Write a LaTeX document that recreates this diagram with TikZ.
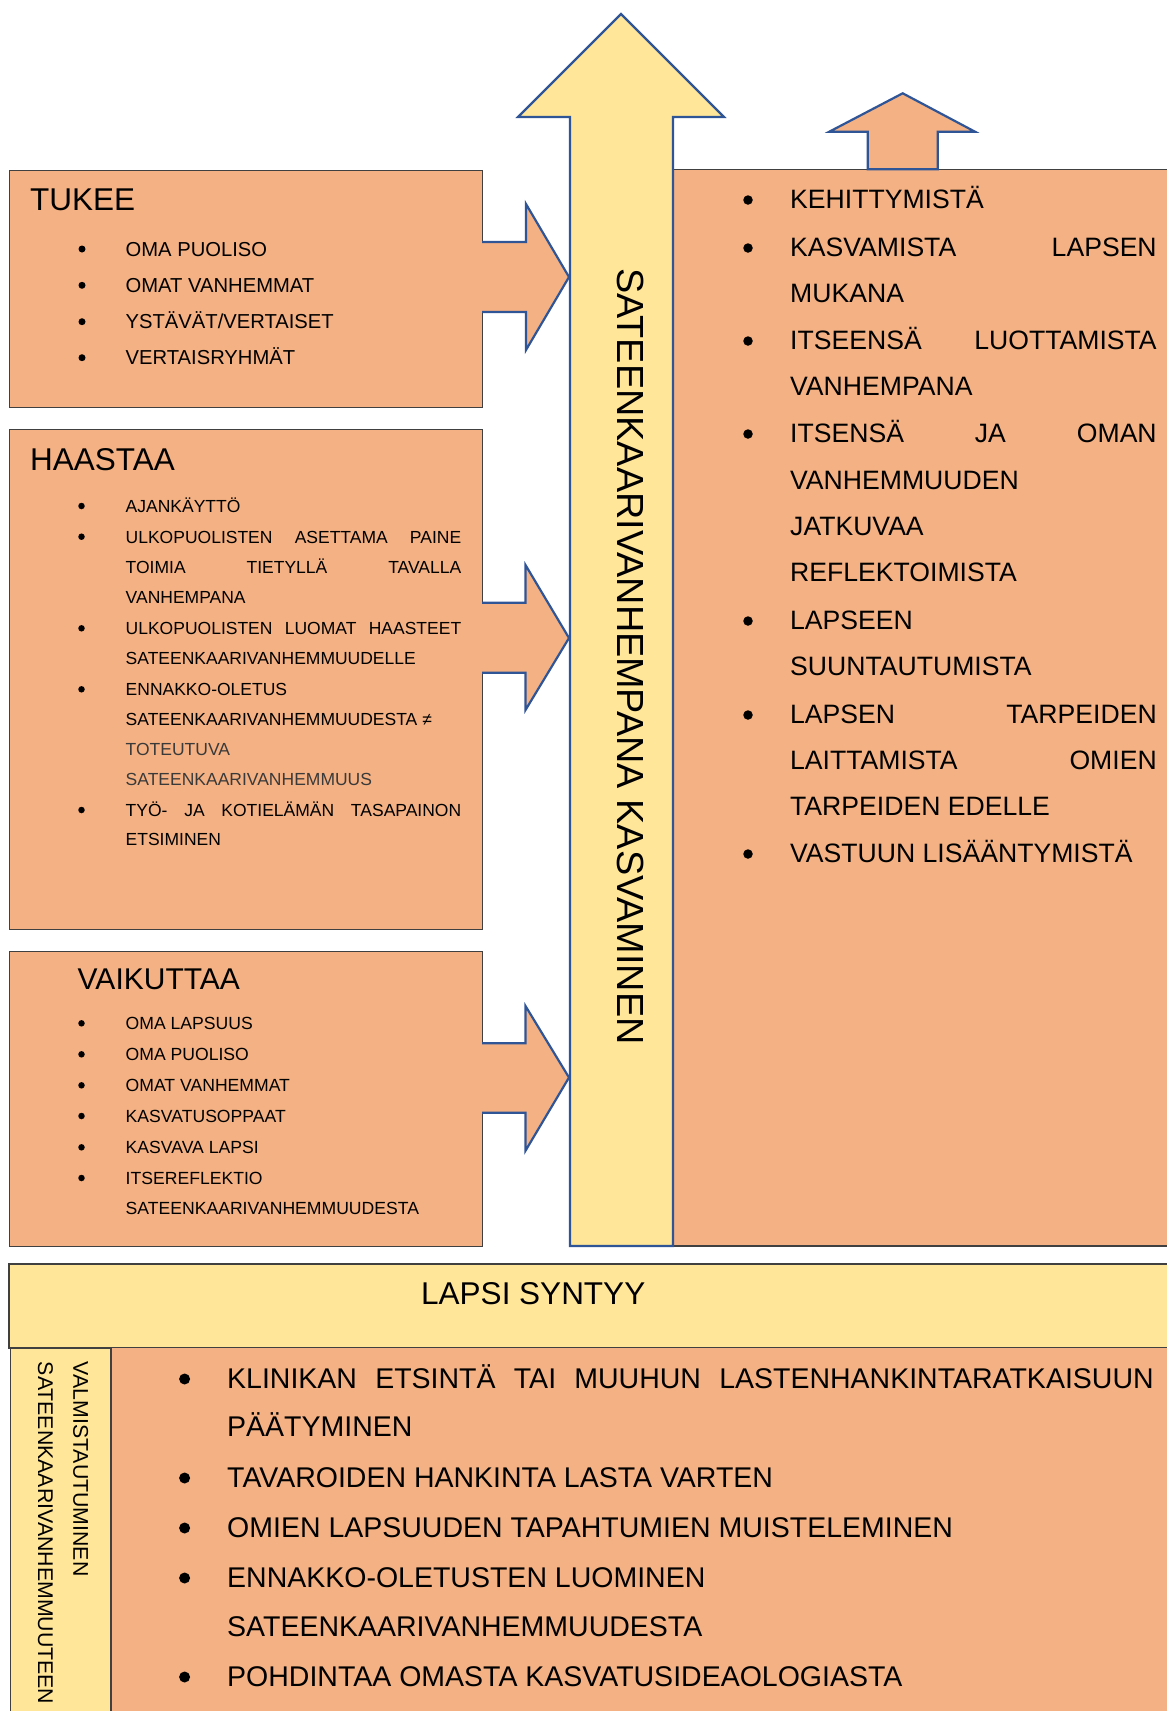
\documentclass[tikz,border=0pt]{standalone}
\usepackage{fontspec}
\setmainfont{Liberation Sans}
\definecolor{org}{HTML}{F4B183}
\definecolor{yel}{HTML}{FFE699}
\definecolor{arblue}{HTML}{2F5597}
\definecolor{edgec}{HTML}{404040}
\definecolor{greytx}{HTML}{3A3A3A}
\newcommand\justline[2]{\hbox to #1{#2}}
\begin{document}
\begin{tikzpicture}[x=1pt,y=-1pt,
  sbox/.style={fill=org, draw=edgec, line width=1.3pt, anchor=north west, inner sep=0},
  barrow/.style={fill=#1, draw=arblue, line width=2.2pt, line join=miter},
  ttl/.style={anchor=base west, inner sep=0, font=\fontsize{31.5}{36}\selectfont},
  rtx/.style={anchor=base west, inner sep=0, font=\fontsize{26.6}{30}\selectfont},
  stx/.style={anchor=base west, inner sep=0, font=\fontsize{20.2}{23}\selectfont},
  htx/.style={anchor=base west, inner sep=0, font=\fontsize{17.5}{20}\selectfont},
  btx/.style={anchor=base west, inner sep=0, font=\fontsize{28.5}{32}\selectfont},
  vtx/.style={rotate=-90, anchor=base west, inner sep=0, font=\fontsize{21.3}{24}\selectfont},
  dot/.style={circle, fill=black, inner sep=0, minimum size=#1}]
\useasboundingbox (0,0) rectangle (1167,1711);

% right box
\fill[org] (673,169.3) rectangle (1167,1246);
\draw[edgec, line width=1.3pt] (673,169.3) -- (1167,169.3);
\draw[edgec, line width=1.3pt] (673,1246) -- (1167,1246);

% left boxes
\node[sbox, minimum width=473pt, minimum height=237pt] (tukee) at (9,170) {};
\node[sbox, minimum width=473pt, minimum height=500pt] (haastaa) at (9,429) {};
\node[sbox, minimum width=473pt, minimum height=295pt] (vaikuttaa) at (9,951) {};

% lapsi syntyy box
\fill[yel] (9,1264) rectangle (1167,1348);
\draw[edgec, line width=1.3pt] (1167,1264) -- (9,1264) -- (9,1348) -- (1167,1348);
% bottom area
\fill[org] (111,1348) rectangle (1167,1711);
\draw[edgec, line width=1.3pt, fill=yel] (10.7,1716) -- (10.7,1348) -- (111,1348) -- (111,1716);

% big arrow
\draw[barrow=yel] (570,1246) -- (570,117) -- (518,117) -- (621,14) -- (724,117) -- (673,117) -- (673,1246) -- cycle;
% small arrow
\draw[barrow=org] (867.7,169.3) -- (867.7,131.7) -- (829.3,131.7) -- (902.7,93.3) -- (975,131.7) -- (937.7,131.7) -- (937.7,169.3) -- cycle;
% side arrows
\draw[barrow=org] (482,242) -- (526,242) -- (526,204) -- (569,277) -- (526,350) -- (526,312) -- (482,312);
\draw[barrow=org] (482,602.7) -- (525.5,602.7) -- (525.5,565) -- (569,638) -- (525.5,710) -- (525.5,672.7) -- (482,672.7);
\draw[barrow=org] (482,1043.3) -- (525.5,1043.3) -- (525.5,1006) -- (569,1077.5) -- (525.5,1150.7) -- (525.5,1112.7) -- (482,1112.7);

% vertical main text
\node[rotate=-90, anchor=base west, inner sep=0, font=\fontsize{37.8}{42}\selectfont] (main) at (617,268) {SATEENKAARIVANHEMPANA KASVAMINEN};

% TUKEE
\node[ttl] (t0) at (30,210.5) {TUKEE};
\node[dot=7pt] (tb1) at (82,249) {};
\node[dot=7pt] (tb2) at (82,285.3) {};
\node[dot=7pt] (tb3) at (82,321.7) {};
\node[dot=7pt] (tb4) at (82,357.7) {};
\node[stx] (t1) at (125.5,256.2) {OMA PUOLISO};
\node[stx] (t2) at (125.5,292.5) {OMAT VANHEMMAT};
\node[stx] (t3) at (125.5,328.9) {YSTÄVÄT/VERTAISET};
\node[stx] (t4) at (125.5,364.9) {VERTAISRYHMÄT};

% HAASTAA
\node[ttl] (h0) at (30,470) {HAASTAA};
\node[dot=6.5pt] (hb1) at (81.5,506) {};
\node[dot=6.5pt] (hb2) at (81.5,536.7) {};
\node[dot=6.5pt] (hb3) at (81.5,628.3) {};
\node[dot=6.5pt] (hb4) at (81.5,689.3) {};
\node[dot=6.5pt] (hb5) at (81.5,810) {};
\node[htx] (h1) at (125.5,512.3) {AJANKÄYTTÖ};
\node[htx] (h2) at (125.5,543) {\justline{335.5pt}{ULKOPUOLISTEN\hfill ASETTAMA\hfill PAINE}};
\node[htx] (h3) at (125.5,573) {\justline{335.5pt}{TOIMIA\hfill TIETYLLÄ\hfill TAVALLA}};
\node[htx] (h4) at (125.5,603) {VANHEMPANA};
\node[htx] (h5) at (125.5,634.6) {\justline{335.5pt}{ULKOPUOLISTEN\hfill LUOMAT\hfill HAASTEET}};
\node[htx] (h6) at (125.5,664) {SATEENKAARIVANHEMMUUDELLE};
\node[htx] (h7) at (125.5,695.6) {ENNAKKO-OLETUS};
\node[htx] (h8) at (125.5,725.3) {SATEENKAARIVANHEMMUUDESTA ≠};
\node[htx, text=greytx] (h9) at (125.5,755.6) {TOTEUTUVA};
\node[htx, text=greytx] (h10) at (125.5,785.3) {SATEENKAARIVANHEMMUUS};
\node[htx] (h11) at (125.5,816.3) {\justline{335.5pt}{TYÖ-\hfill JA\hfill KOTIELÄMÄN\hfill TASAPAINON}};
\node[htx] (h12) at (125.5,845.6) {ETSIMINEN};

% VAIKUTTAA
\node[ttl, font=\fontsize{30}{34}\selectfont] (v0) at (77.5,989.7) {VAIKUTTAA};
\node[dot=6.5pt] (vb1) at (81.5,1023.3) {};
\node[dot=6.5pt] (vb2) at (81.5,1054.3) {};
\node[dot=6.5pt] (vb3) at (81.5,1085.3) {};
\node[dot=6.5pt] (vb4) at (81.5,1116) {};
\node[dot=6.5pt] (vb5) at (81.5,1147.3) {};
\node[dot=6.5pt] (vb6) at (81.5,1178) {};
\node[htx, font=\fontsize{17.6}{20}\selectfont] (v1) at (125.5,1029.6) {OMA LAPSUUS};
\node[htx, font=\fontsize{17.6}{20}\selectfont] (v2) at (125.5,1060.6) {OMA PUOLISO};
\node[htx, font=\fontsize{17.6}{20}\selectfont] (v3) at (125.5,1091.6) {OMAT VANHEMMAT};
\node[htx, font=\fontsize{17.6}{20}\selectfont] (v4) at (125.5,1122.3) {KASVATUSOPPAAT};
\node[htx, font=\fontsize{17.6}{20}\selectfont] (v5) at (125.5,1153.6) {KASVAVA LAPSI};
\node[htx, font=\fontsize{17.6}{20}\selectfont] (v6) at (125.5,1184.3) {ITSEREFLEKTIO};
\node[htx, font=\fontsize{17.6}{20}\selectfont] (v7) at (125.5,1214) {SATEENKAARIVANHEMMUUDESTA};

% right box text
\node[dot=9.5pt] (rb1) at (748,200) {};
\node[dot=9.5pt] (rb2) at (748,248) {};
\node[dot=9.5pt] (rb3) at (748,341) {};
\node[dot=9.5pt] (rb4) at (748,434) {};
\node[dot=9.5pt] (rb5) at (748,621) {};
\node[dot=9.5pt] (rb6) at (748,715) {};
\node[dot=9.5pt] (rb7) at (748,854) {};
\node[rtx] (r1) at (790,208.5) {KEHITTYMISTÄ};
\node[rtx] (r2) at (790,256.5) {\justline{366.5pt}{KASVAMISTA\hfill LAPSEN}};
\node[rtx] (r3) at (790,302.5) {MUKANA};
\node[rtx] (r4) at (790,349.5) {\justline{366.5pt}{ITSEENSÄ\hfill LUOTTAMISTA}};
\node[rtx] (r5) at (790,395.5) {VANHEMPANA};
\node[rtx] (r6) at (790,442.5) {\justline{366.5pt}{ITSENSÄ\hfill JA\hfill OMAN}};
\node[rtx] (r7) at (790,489.5) {VANHEMMUUDEN};
\node[rtx] (r8) at (790,535.5) {JATKUVAA};
\node[rtx] (r9) at (790,581.5) {REFLEKTOIMISTA};
\node[rtx] (r10) at (790,629.5) {LAPSEEN};
\node[rtx] (r11) at (790,675.5) {SUUNTAUTUMISTA};
\node[rtx] (r12) at (790,723.5) {\justline{366.5pt}{LAPSEN\hfill TARPEIDEN}};
\node[rtx] (r13) at (790,769.5) {\justline{366.5pt}{LAITTAMISTA\hfill OMIEN}};
\node[rtx] (r14) at (790,815.5) {TARPEIDEN EDELLE};
\node[rtx] (r15) at (790,862.5) {VASTUUN LISÄÄNTYMISTÄ};

% LAPSI SYNTYY
\node[ttl] (lapsi) at (421,1304) {LAPSI SYNTYY};

% strip
\node[vtx] (s1) at (73.3,1361.7) {VALMISTAUTUMINEN};
\node[vtx] (s2) at (38,1361.7) {SATEENKAARIVANHEMMUUTEEN};

% bottom list
\node[dot=11pt] (bb1) at (184.6,1379) {};
\node[dot=11pt] (bb2) at (184.6,1478) {};
\node[dot=11pt] (bb3) at (184.6,1528) {};
\node[dot=11pt] (bb4) at (184.6,1578) {};
\node[dot=11pt] (bb5) at (184.6,1677) {};
\node[btx] (b1) at (227,1388.5) {\justline{926.5pt}{KLINIKAN\hfill ETSINTÄ\hfill TAI\hfill MUUHUN\hfill LASTENHANKINTARATKAISUUN}};
\node[btx] (b2) at (227,1436.9) {PÄÄTYMINEN};
\node[btx] (b3) at (227,1487.5) {TAVAROIDEN HANKINTA LASTA VARTEN};
\node[btx] (b4) at (227,1537.5) {OMIEN LAPSUUDEN TAPAHTUMIEN MUISTELEMINEN};
\node[btx] (b5) at (227,1587.5) {ENNAKKO-OLETUSTEN LUOMINEN};
\node[btx] (b6) at (227,1636.2) {SATEENKAARIVANHEMMUUDESTA};
\node[btx] (b7) at (227,1686.2) {POHDINTAA OMASTA KASVATUSIDEAOLOGIASTA};
\end{tikzpicture}
\end{document}
